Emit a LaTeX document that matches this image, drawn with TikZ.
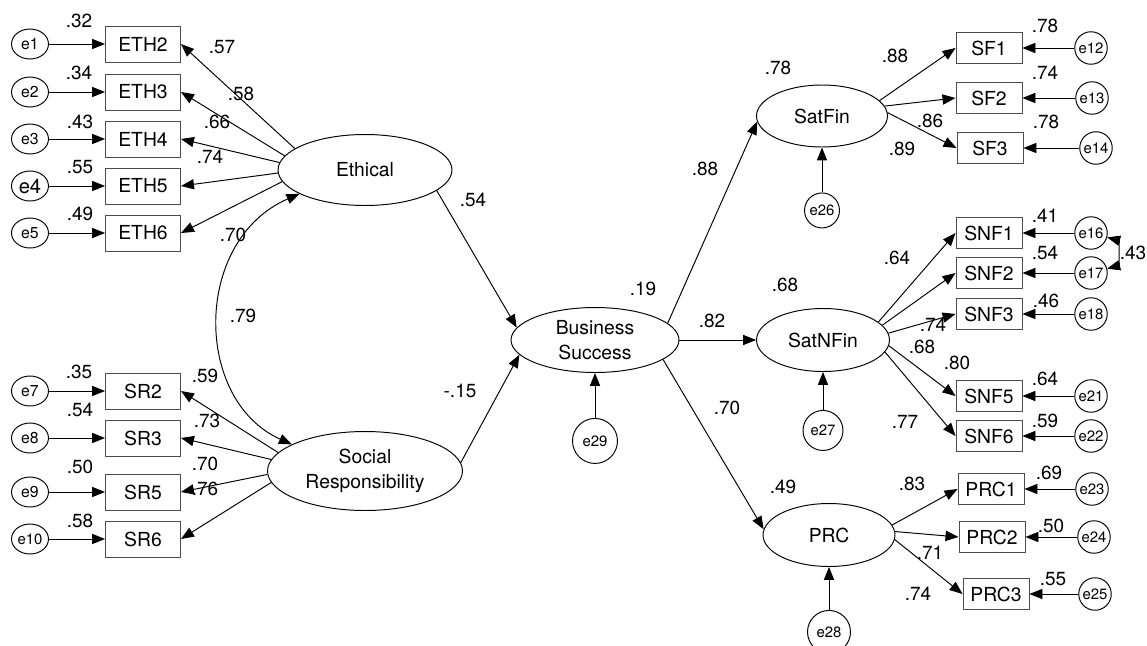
\documentclass[tikz,border=0pt]{standalone}
\usepackage{fontspec}
\setmainfont{TeX Gyre Heros}
\usetikzlibrary{shapes.geometric,arrows.meta,positioning}
\tikzstyle{obs box}=[
        draw = black!70,
        inner sep = 0pt,
        minimum width = 1.32cm,
        minimum height = 0.62cm,
        font = \fontsize{11}{13}\selectfont
    ]
\tikzstyle{latent var}=[
    draw,
    ellipse,
    inner sep = 0pt,
    align = center,
    font = \fontsize{11}{14}\selectfont
]
\tikzstyle{err left}=[
    draw,
    ellipse,
    inner sep = 0pt,
    minimum width = 0.74cm,
    minimum height = 0.6cm
]
\tikzstyle{err right}=[
    draw,
    circle,
    inner sep = 0pt,
    minimum size = 0.65cm,
    font = \fontsize{8.5}{10}\selectfont
]
\tikzstyle{coef}=[
    inner sep = 0pt,
    font = \fontsize{10.8}{12}\selectfont
]

\begin{document}
\begin{tikzpicture}[x=0.02cm, y=-0.02cm, line width=0.55pt, >={Triangle[length=7.4pt,width=5.8pt]}]
        \useasboundingbox (0,0) rectangle (1147,646);

        % latent variables
        \node[latent var, minimum width=3.48cm, minimum height=1.42cm] (eth) at (365,170) {Ethical};
        \node[latent var, minimum width=3.9cm, minimum height=1.58cm] (sr) at (365,471) {Social\\Responsibility};
        \node[latent var, minimum width=3.36cm, minimum height=1.3cm] (bs) at (595,340) {Business\\Success};
        \node[latent var, minimum width=2.62cm, minimum height=1.24cm] (satfin) at (822,116) {SatFin};
        \node[latent var, minimum width=2.66cm, minimum height=1.26cm] (satnfin) at (823,340) {SatNFin};
        \node[latent var, minimum width=2.64cm, minimum height=1.26cm] (prc) at (829,535) {PRC};

        % disturbances
        \node[err right, minimum size=0.7cm] (e26) [below=0.9cm of satfin] {e26};
        \node[err right, minimum size=0.8cm] (e27) [below=0.76cm of satnfin] {e27};
        \node[err right, minimum size=0.86cm] (e28) [below=0.86cm of prc] {e28};
        \node[err right, minimum size=0.9cm] (e29) [below=0.9cm of bs] {e29};
        \draw[->] (e26) -- (satfin);
        \draw[->] (e27) -- (satnfin);
        \draw[->] (e28) -- (prc);
        \draw[->] (e29) -- (bs);

        % left indicators
        \foreach \name/\y/\e/\s in {ETH2/44/e1/9, ETH3/92/e2/9, ETH4/139/e3/9, ETH5/186/e4/11.5, ETH6/233/e5/9, SR2/391/e7/9, SR3/438/e8/9, SR5/492/e9/9, SR6/539/e10/8.5} {
            \node[obs box, minimum width=1.5cm, minimum height=0.72cm] (\name) at (143,\y) {\name};
            \node[err left, font=\fontsize{\s}{\s}\selectfont] (\e) at (30,\y) {\e};
            \draw[->] (\e) -- (\name);
        }
        \foreach \name/\a in {ETH2/163, ETH3/170, ETH4/175, ETH5/182, ETH6/188}
            \draw[->] (eth.\a) -- (\name.east);
        \foreach \name/\a in {SR2/168, SR3/173, SR5/182, SR6/187}
            \draw[->] (sr.\a) -- (\name.east);

        % right indicators
        \foreach \name/\x/\y/\e/\ex in {SF1/989/48/e12/1091, SF2/989/98/e13/1092, SF3/990/148/e14/1096, SNF1/989/233/e16/1091, SNF2/989/273/e17/1091, SNF3/989/314/e18/1091, SNF5/989/396/e21/1091, SNF6/989/436/e22/1091, PRC1/991/489/e23/1092, PRC2/992/537/e24/1094, PRC3/996/594/e25/1095} {
            \node[obs box] (\name) at (\x,\y) {\name};
            \node[err right] (\e) at (\ex,\y) {\e};
            \draw[->] (\e) -- (\name);
        }
        \foreach \name/\a in {SF1/15, SF2/9, SF3/3}
            \draw[->] (satfin.\a) -- (\name.west);
        \foreach \name/\a in {SNF1/18, SNF2/14, SNF3/6, SNF5/-5, SNF6/-11}
            \draw[->] (satnfin.\a) -- (\name.west);
        \foreach \name/\a in {PRC1/9, PRC2/3, PRC3/-4}
            \draw[->] (prc.\a) -- (\name.west);

        % structural paths
        \draw[->] (eth.-16) -- (bs.171);
        \draw[->] (sr.5) -- (bs.191);
        \draw[->] (bs.13) -- (satfin.185);
        \draw[->] (bs) -- (satnfin);
        \draw[->] (bs.-16) -- (prc.175);

        % covariances
        \draw[<->] (eth.200) .. controls (193,240) and (193,400) .. (sr.160);
        \draw[<->] (e16.-15) to[bend left=75] (e17.15);

        % estimates
        \foreach \v/\x/\y [count=\k] in {.32/79/21, .34/79/73, .43/80/122, .55/80/167, .49/80/214, .57/222/47, .58/241/94, .66/217/122, .74/210/157, .70/233/235, .79/243/316, .35/79/372, .59/205/376, .54/80/410, .73/207/421, .50/80/467, .70/205/464, .76/205/489, .58/80/521, -.15/460/391, .54/473/200, .19/643/289, .88/705/169, .82/712/321, .70/727/408, .78/778/68, .88/895/56, .86/930/121, .89/902/149, .78/1045/26, .74/1045/73, .78/1046/122, .41/1045/216, .54/1045/253, .46/1046/301, .64/1045/379, .59/1045/421, .43/1133/253, .64/897/258, .68/785/285, .74/933/325, .68/922/347, .80/957/363, .77/905/422, .49/783/487, .83/912/484, .71/930/553, .74/918/594, .69/1049/473, .50/1051/526, .55/1053/579}
            \node[coef] (w\k) at (\x,\y) {\v};

    \end{tikzpicture}
\end{document}
